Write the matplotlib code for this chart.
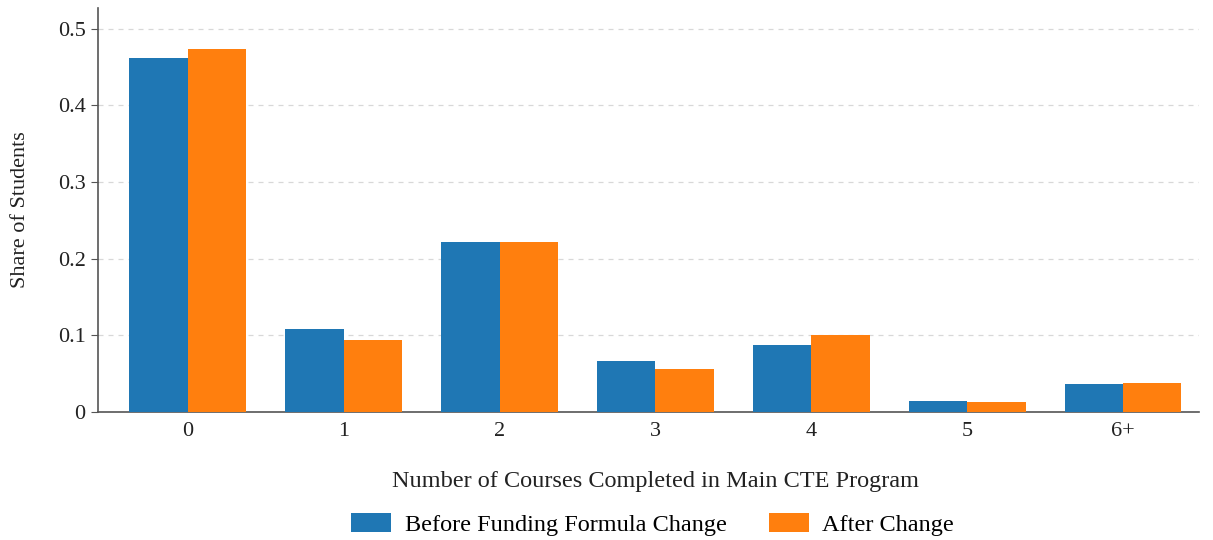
import numpy as np
import matplotlib.pyplot as plt

categories = ["0", "1", "2", "3", "4", "5", "6+"]
before = [0.462, 0.108, 0.222, 0.0665, 0.0875, 0.0145, 0.0365]
after = [0.474, 0.094, 0.222, 0.056, 0.1005, 0.013, 0.038]
yticks = [0, 0.1, 0.2, 0.3, 0.4, 0.5]
ytick_labels = ["0", "0.1", "0.2", "0.3", "0.4", "0.5"]

plt.rcParams["font.family"] = ["Liberation Serif", "DejaVu Serif"]
plt.rcParams["font.size"] = 16

fig = plt.figure(figsize=(12.13, 5.4), dpi=100)
ax = fig.add_axes([0.0808, 0.237, 0.908, 0.748])

x = np.arange(len(categories))
w = 0.375
ax.bar(x - w / 2, before, w, color="#1f77b4", label="Before Funding Formula Change", zorder=3)
ax.bar(x + w / 2, after, w, color="#ff7f0e", label="After Change", zorder=3)

ax.set_xlim(-0.577, 6.49)
ax.set_ylim(0, 0.527)
ax.set_xticks(x)
ax.set_xticklabels(categories)
ax.set_yticks(yticks)
ax.set_yticklabels(ytick_labels)
ax.tick_params(axis="x", length=0, pad=7, labelcolor="#222222")
ax.tick_params(axis="y", length=5, color="#555555", labelcolor="#222222", pad=4)
ax.grid(axis="y", color="#d8d8d8", linestyle=(0, (4, 4)), linewidth=0.9, zorder=0)

for s in ["top", "right"]:
    ax.spines[s].set_visible(False)
for s in ["left", "bottom"]:
    ax.spines[s].set_color("#555555")
    ax.spines[s].set_linewidth(1.2)

ax.set_xlabel("Number of Courses Completed in Main CTE Program", labelpad=22,
              color="#222222", fontsize=17.5)
ax.xaxis.label.set_x(0.506)
ax.set_ylabel("Share of Students", labelpad=20, color="#222222")

fig.legend(loc="lower center", bbox_to_anchor=(0.538, -0.033), ncol=2, frameon=False,
           fontsize=17.5, handlelength=1.65, handleheight=0.86, columnspacing=1.75,
           handletextpad=0.55)

fig.savefig("out.png", dpi=100)
